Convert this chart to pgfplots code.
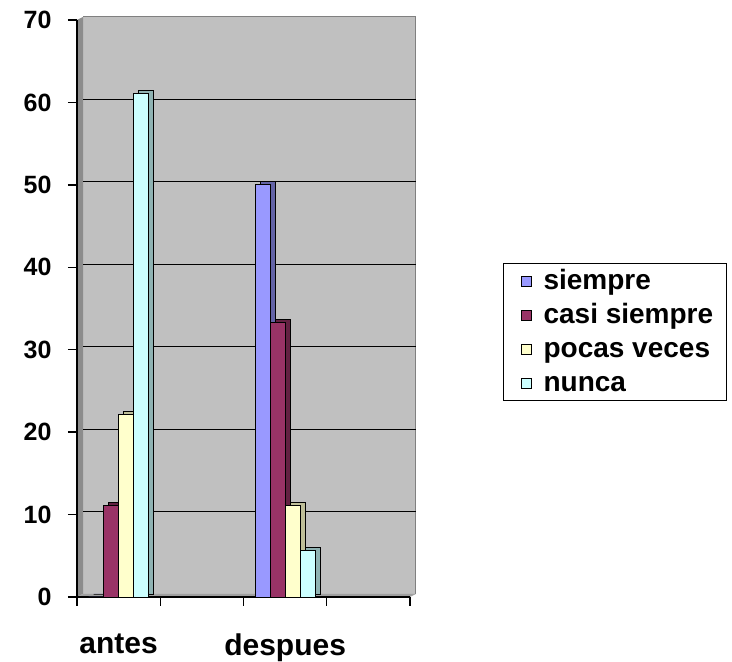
\documentclass[border=0pt]{standalone}
\usepackage{pgfplots}
\pgfplotsset{compat=1.18}
\usepackage{fontspec}
\setmainfont{Liberation Sans}
\definecolor{cSiempre}{HTML}{9999FF}
\definecolor{cCasi}{HTML}{993366}
\definecolor{cPocas}{HTML}{FFFFCC}
\definecolor{cNunca}{HTML}{CCFFFF}
\definecolor{wall}{HTML}{C0C0C0}
\definecolor{sidewall}{HTML}{8C8C8C}
\definecolor{floorc}{HTML}{A0A0A0}
\pgfdeclarelayer{bg}
\pgfsetlayers{bg,main}
\pgfplotstableread{
x siempre casi pocas nunca
0 0 11.1 22.2 61.1
2 50 33.3 11.1 5.6
}\datatable
\begin{document}
\begin{tikzpicture}
\useasboundingbox (0,0) rectangle (732pt,662pt);
\begin{axis}[
  clip=false,
  at={(77pt,65pt)}, anchor=south west,
  scale only axis, width=333pt, height=577pt,
  xmin=-0.5, xmax=3.5, ymin=0, ymax=70,
  ybar, bar width=15pt,
  axis x line*=bottom, axis y line*=left,
  axis line style={black, line width=1.3pt},
  tick align=outside, major tick length=9pt,
  tick style={black, line width=1.3pt},
  ytick={0,10,...,70},
  xtick={-0.5,0.5,1.5,2.5,3.5}, xticklabels={},
  extra x ticks={0,2}, extra x tick labels={antes,despues},
  extra x tick style={major tick length=0pt, grid=none},
  /pgf/number format/assume math mode=true,
  yticklabel style={font=\fontsize{25}{30}\selectfont\bfseries, xshift=-13pt},
  xticklabel style={font=\fontsize{30}{36}\selectfont\bfseries, yshift=-33pt},
  legend style={at={(1.279,0.579)}, anchor=north west, draw=black, line width=1.3pt,
    font=\fontsize{28}{33}\selectfont\bfseries, row sep=5pt,
    nodes={inner ysep=0pt, text height=23pt, text depth=6pt},
    inner xsep=11pt, inner ysep=3pt},
  legend cell align=left,
  legend image code/.code={\draw[#1,draw=black,line width=1pt] (0pt,-5pt) rectangle (10pt,5pt); \path[draw=none] (-7pt,0pt) (20pt,0pt);},
  backbar/.style={xshift=5pt, yshift=3pt, draw=black, line width=0.8pt, forget plot},
  frontbar/.style={draw=black, line width=0.8pt},
]
\coordinate (LL) at (axis cs:-0.5,0);
\coordinate (LR) at (axis cs:3.5,0);
\coordinate (UL) at (axis cs:-0.5,70);
\coordinate (UR) at (axis cs:3.5,70);
\coordinate (G1) at (axis cs:-0.5,10);
\coordinate (G2) at (axis cs:-0.5,20);
\coordinate (G3) at (axis cs:-0.5,30);
\coordinate (G4) at (axis cs:-0.5,40);
\coordinate (G5) at (axis cs:-0.5,50);
\coordinate (G6) at (axis cs:-0.5,60);
% depth faces (side/top) of the 3-D bars
\addplot[backbar, fill=cSiempre!65!black, bar shift=-22.5pt] table[x=x, y=siempre] {\datatable};
\addplot[backbar, fill=cCasi!65!black, bar shift=-7.5pt] table[x=x, y=casi] {\datatable};
\addplot[backbar, fill=cPocas!75!black, bar shift=7.5pt] table[x=x, y=pocas] {\datatable};
\addplot[backbar, fill=cNunca!70!black, bar shift=22.5pt] table[x=x, y=nunca] {\datatable};
% front faces
\addplot[frontbar, fill=cSiempre, bar shift=-22.5pt] table[x=x, y=siempre] {\datatable};
\addplot[frontbar, fill=cCasi, bar shift=-7.5pt] table[x=x, y=casi] {\datatable};
\addplot[frontbar, fill=cPocas, bar shift=7.5pt] table[x=x, y=pocas] {\datatable};
\addplot[frontbar, fill=cNunca, bar shift=22.5pt] table[x=x, y=nunca] {\datatable};
\legend{siempre, casi siempre, pocas veces, nunca}
\end{axis}
\begin{pgfonlayer}{bg}
  \fill[wall] ([shift={(6pt,3pt)}]LL) rectangle ([shift={(6pt,3pt)}]UR);
  \draw[gray, line width=1pt] ([shift={(6pt,3pt)}]UL) -- ([shift={(6pt,3pt)}]UR) -- ([shift={(6pt,3pt)}]LR);
  \fill[sidewall] (LL) -- ([shift={(6pt,3pt)}]LL) -- ([shift={(6pt,3pt)}]UL) -- (UL) -- cycle;
  \fill[floorc] (LL) -- (LR) -- ([shift={(6pt,3pt)}]LR) -- ([shift={(6pt,3pt)}]LL) -- cycle;
  \foreach \g in {G1,G2,G3,G4,G5,G6}{
    \draw[black, line width=1.2pt] ([shift={(6pt,3pt)}]\g) -- ([shift={(339pt,3pt)}]\g);
  }
\end{pgfonlayer}
\end{tikzpicture}
\end{document}
